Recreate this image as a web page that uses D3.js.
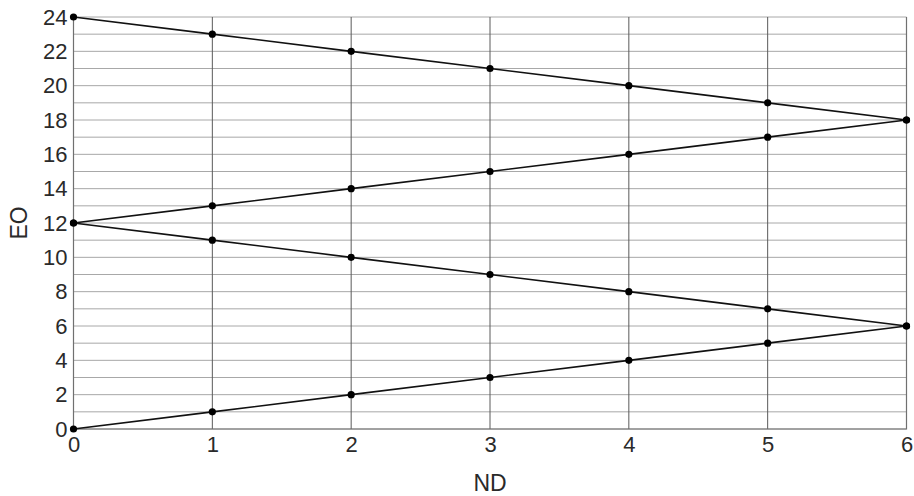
<!DOCTYPE html>
<html>
<head>
<meta charset="utf-8">
<script src="https://cdn.jsdelivr.net/npm/d3@7"></script>
<style>
  html, body { margin: 0; padding: 0; background: #fff; }
  svg { display: block; }
  text { font-family: "Liberation Sans", Arial, sans-serif; fill: #2a2a2a; }
</style>
</head>
<body>
<svg id="chart" width="914" height="496"></svg>
<script>
// ND values shared by every series
const nd = [0, 1, 2, 3, 4, 5, 6];
// EO values per series
const seriesA = [24, 23, 22, 21, 20, 19, 18];
const seriesB = [12, 13, 14, 15, 16, 17, 18];
const seriesC = [12, 11, 10, 9, 8, 7, 6];
const seriesD = [0, 1, 2, 3, 4, 5, 6];
const xTicks = [0, 1, 2, 3, 4, 5, 6];
const yTicks = [0, 2, 4, 6, 8, 10, 12, 14, 16, 18, 20, 22, 24];
const yGrid = d3.range(0, 25, 1);

const svg = d3.select("#chart");
const margin = { left: 73.5, right: 7.5, top: 17, bottom: 67 };
const W = 914, H = 496;

const x = d3.scaleLinear().domain([0, 6]).range([margin.left, W - margin.right]);
const y = d3.scaleLinear().domain([0, 24]).range([H - margin.bottom, margin.top]);

// horizontal grid (every unit)
svg.append("g").selectAll("line").data(yGrid).join("line")
  .attr("x1", x(0)).attr("x2", x(6))
  .attr("y1", d => y(d)).attr("y2", d => y(d))
  .attr("stroke", "#a8a8a8").attr("stroke-width", 1);

// vertical grid
svg.append("g").selectAll("line").data(xTicks).join("line")
  .attr("x1", d => x(d)).attr("x2", d => x(d))
  .attr("y1", y(0)).attr("y2", y(24))
  .attr("stroke", "#5a5a5a").attr("stroke-width", 1);

// frame: left, bottom, right
svg.append("path")
  .attr("d", `M${x(0)},${y(24)}V${y(0)}H${x(6)}V${y(24)}`)
  .attr("fill", "none").attr("stroke", "#707070").attr("stroke-width", 1.2);

// axes (labels only, grid drawn above)
const xAxis = svg.append("g").attr("transform", `translate(0,${y(0)})`)
  .call(d3.axisBottom(x).tickValues(xTicks).tickSize(0).tickPadding(7).tickFormat(d3.format("d")));
const yAxis = svg.append("g").attr("transform", `translate(${x(0)},0)`)
  .call(d3.axisLeft(y).tickValues(yTicks).tickSize(0).tickPadding(6).tickFormat(d3.format("d")));
[xAxis, yAxis].forEach(a => {
  a.select(".domain").remove();
  a.selectAll("text").attr("font-size", 22).attr("fill", "#2a2a2a")
    .attr("font-family", "'Liberation Sans', Arial, sans-serif");
});

// axis titles
svg.append("text").attr("x", (x(0) + x(6)) / 2).attr("y", 491)
  .attr("text-anchor", "middle").attr("font-size", 23).text("ND");
svg.append("text")
  .attr("transform", `translate(27,${(y(0) + y(24)) / 2}) rotate(-90)`)
  .attr("text-anchor", "middle").attr("font-size", 23).text("EO");

// series lines and markers
const allSeries = [seriesA, seriesB, seriesC, seriesD];
const line = d3.line().x((d, i) => x(nd[i])).y(d => y(d));
allSeries.forEach(s => {
  svg.append("path").datum(s).attr("d", line)
    .attr("fill", "none").attr("stroke", "#111").attr("stroke-width", 1.6);
  svg.append("g").selectAll("circle").data(s).join("circle")
    .attr("cx", (d, i) => x(nd[i])).attr("cy", d => y(d))
    .attr("r", 3.6).attr("fill", "#000");
});
</script>
</body>
</html>
